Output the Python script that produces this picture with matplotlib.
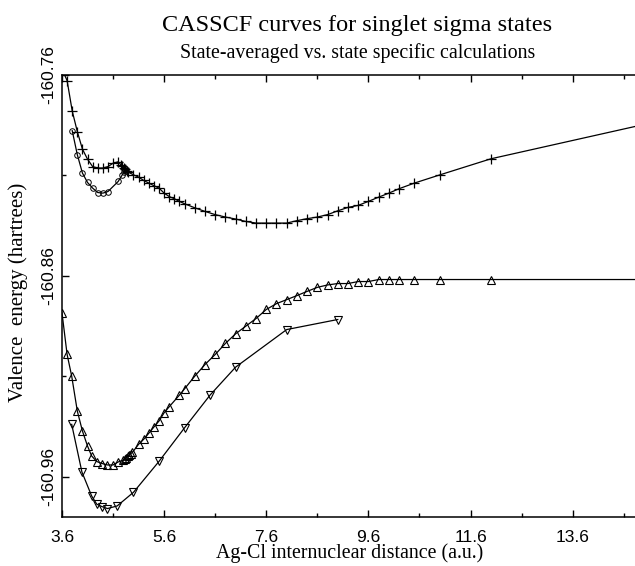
import matplotlib
matplotlib.use("Agg")
import matplotlib.pyplot as plt
from matplotlib.ticker import FixedLocator

# State-specific, upper singlet sigma (plus markers)
ss_up_x = [3.6, 3.7, 3.8, 3.9, 4.0, 4.1, 4.2, 4.3, 4.4, 4.5, 4.6, 4.7,
           4.755, 4.784, 4.814, 4.843, 4.873, 4.902,
           5.0, 5.1, 5.2, 5.3, 5.4, 5.5, 5.6, 5.7, 5.8, 5.9, 6.0,
           6.2, 6.4, 6.6, 6.8, 7.0, 7.2, 7.4, 7.6, 7.8, 8.0, 8.2, 8.4, 8.6, 8.8,
           9.0, 9.2, 9.4, 9.6, 9.8, 10.0, 10.2, 10.5, 11.0, 12.0, 16.0]
ss_up_y = [-160.7570, -160.7628, -160.7779, -160.7882, -160.7969, -160.8019, -160.8056,
           -160.8063, -160.8063, -160.8056, -160.8039, -160.8032,
           -160.8047, -160.8055, -160.8062, -160.8069, -160.8077, -160.8084,
           -160.8097, -160.8108, -160.8125, -160.8138, -160.8151, -160.8163, -160.8188,
           -160.8205, -160.8216, -160.8229, -160.8241,
           -160.8261, -160.8279, -160.8295, -160.8307, -160.8317, -160.8329, -160.8337,
           -160.8337, -160.8337, -160.8337, -160.8325, -160.8315, -160.8307, -160.8295,
           -160.8276, -160.8259, -160.8249, -160.8229, -160.8208, -160.8188, -160.8166,
           -160.8138, -160.8097, -160.8017, -160.7789]

# State-averaged, upper (circles)
sa_up_x = [3.8, 3.9, 4.0, 4.1, 4.2, 4.3, 4.4, 4.5, 4.7, 4.78, 4.82, 4.86]
sa_up_y = [-160.7877, -160.7997, -160.8088, -160.8135, -160.8163, -160.8185,
           -160.8188, -160.8180, -160.8130, -160.8097, -160.8082, -160.8072]

# State-averaged, lower (up triangles)
sa_lo_x = [3.6, 3.7, 3.79, 3.9, 4.0, 4.1, 4.18, 4.28, 4.39, 4.49, 4.6, 4.7,
           4.80, 4.83, 4.86, 4.89, 4.92, 4.95, 4.98,
           5.1, 5.2, 5.3, 5.4, 5.5, 5.6, 5.7, 5.9, 6.0, 6.2, 6.4, 6.6, 6.8,
           7.0, 7.2, 7.4, 7.6, 7.8, 8.0, 8.2, 8.4, 8.6, 8.8, 9.0, 9.2, 9.4,
           9.6, 9.8, 10.0, 10.2, 10.5, 11.0, 12.0, 16.0]
sa_lo_y = [-160.8784, -160.8991, -160.9099, -160.9273, -160.9372, -160.9447, -160.9496,
           -160.9524, -160.9534, -160.9541, -160.9541, -160.9526,
           -160.9517, -160.9511, -160.9504, -160.9497, -160.9490, -160.9484, -160.9478,
           -160.9438, -160.9413, -160.9383, -160.9352, -160.9322, -160.9281, -160.9251,
           -160.9193, -160.9162, -160.9099, -160.9041, -160.8991, -160.8936,
           -160.8888, -160.8850, -160.8812, -160.8767, -160.8738, -160.8718, -160.8698,
           -160.8677, -160.8657, -160.8645, -160.8638, -160.8638, -160.8628,
           -160.8628, -160.8618, -160.8618, -160.8618, -160.8618, -160.8618, -160.8618,
           -160.8618]

# State-specific, lower (down triangles)
ss_lo_x = [3.79, 3.99, 4.18, 4.28, 4.38, 4.49, 4.68, 5.0, 5.5, 6.0, 6.5, 7.0, 8.0, 9.0]
ss_lo_y = [-160.9339, -160.9576, -160.9695, -160.9736, -160.9748, -160.9758, -160.9745,
           -160.9677, -160.9523, -160.9356, -160.9193, -160.9054, -160.8867, -160.8817]

x_ticks = [3.6, 5.6, 7.6, 9.6, 11.6, 13.6]
x_minor = [4.6, 6.6, 8.6, 10.6, 12.6, 14.6]
y_ticks = [-160.96, -160.86, -160.76]
y_minor = [-160.91, -160.81]

fig = plt.figure(figsize=(6.35, 5.66), dpi=100)
ax = fig.add_axes([62/635, 1-517/566, 1-62/635, (517-75)/566])

lw = 0.9
ax.plot(ss_up_x, ss_up_y, color='black', lw=lw, marker='+', ms=6.5, mew=0.9)
ax.plot(sa_up_x, sa_up_y, color='black', lw=lw, marker='o', ms=4, mfc='none', mew=0.7)
ax.plot(sa_lo_x, sa_lo_y, color='black', lw=lw, marker='^', ms=5.5, mfc='none', mew=0.8)
ax.plot(ss_lo_x, ss_lo_y, color='black', lw=lw, marker='v', ms=6, mfc='none', mew=0.8)

ax.set_xlim(3.6, 14.82)
ax.set_ylim(-160.98, -160.76)
ax.xaxis.set_major_locator(FixedLocator(x_ticks))
ax.xaxis.set_minor_locator(FixedLocator(x_minor))
ax.yaxis.set_major_locator(FixedLocator(y_ticks))
ax.yaxis.set_minor_locator(FixedLocator(y_minor))
ax.set_xticklabels([f"{v:.1f}" for v in x_ticks])
ax.set_yticklabels([f"{v:.2f}" for v in y_ticks], rotation=90, va='center')

ax.tick_params(which='major', direction='in', length=5, width=1, top=True, right=False,
               labelsize=12.5)
ax.tick_params(axis='x', which='major', pad=9)
ax.tick_params(axis='y', which='major', pad=4)
ax.tick_params(which='minor', direction='in', length=3, width=1, top=True, right=False)
for lab in ax.get_xticklabels() + ax.get_yticklabels():
    lab.set_fontfamily('Liberation Sans')
ax.spines['right'].set_visible(False)
for s in ['left', 'bottom', 'top']:
    ax.spines[s].set_linewidth(1.1)

serif = 'Liberation Serif'
fig.text(357/635, 1-31/566, "CASSCF curves for singlet sigma states",
         ha='center', va='baseline', fontsize=17.5, family=serif)
fig.text(358/635, 1-58/566, "State-averaged vs. state specific calculations",
         ha='center', va='baseline', fontsize=14.3, family=serif)
fig.text(350/635, 1-553/566, "Ag-Cl internuclear distance (a.u.)",
         ha='center', va='center', fontsize=14.3, family=serif)
fig.text(18/635, 1-292/566, "Valence  energy (hartrees)",
         ha='center', va='center', rotation=90, fontsize=15, family=serif)

fig.savefig("out.png", dpi=100)
